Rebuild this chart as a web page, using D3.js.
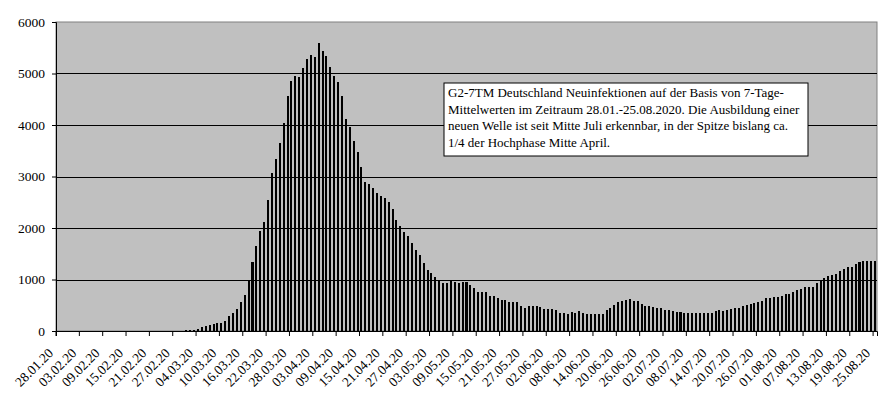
<!DOCTYPE html>
<html>
<head>
<meta charset="utf-8">
<script src="https://cdn.jsdelivr.net/npm/d3@7"></script>
<style>
  body { margin: 0; background: #fff; }
  svg { display: block; }
  text { font-family: "Liberation Serif", "Times New Roman", serif; }
</style>
</head>
<body>
<div id="chart"></div>
<script>
// 7-Tage-Mittelwerte, 28.01.2020 - 25.08.2020 (one value per day)
const startDate = new Date(2020, 0, 28)
const dayCount = 211

const earlyValues = new Array(33).fill(0) // 28.01. - 29.02.
const marchApril = [
  20, 20, 25, 45, 70, 90, 110, 130, 150, 160, 200, 285, 355, 435, 570, 705,
  990, 1345, 1655, 1950, 2120, 2550, 3075, 3345, 3655, 4040, 4570, 4860, 4958, 4932, 5107,
  5288, 5353, 5327, 5599, 5443, 5346, 5133, 4958, 4841, 4570, 4123, 3955, 3696, 3476, 3191,
  2900, 2848, 2783, 2673, 2628, 2589, 2511, 2375, 2149, 2045, 1929, 1851, 1715, 1579, 1482,
  1327, 1191, 1126, 1042, 984, 932, 939, 977, 951, 926, 958, 942, 900, 841
]
const mayJune = [
  751, 751, 751, 686, 686, 647, 595, 595, 570, 557, 557, 492, 440, 476, 492, 476,
  472, 434, 434, 434, 414, 356, 356, 337, 375, 356, 395, 356, 337, 337, 337, 337,
  337, 408, 453, 511, 570, 589, 608, 628, 589, 589, 531, 492, 492, 472, 453, 453,
  414, 414, 395, 375, 375
]
const julyAugust = [
  356, 356, 356, 356, 356, 356, 356, 356, 380, 405, 395, 414, 434, 453, 453, 492,
  511, 531, 550, 570, 589, 647, 647, 667, 667, 686, 725, 725, 764, 803, 822, 861,
  861, 861, 939, 997, 1036, 1074, 1094, 1113, 1172, 1204, 1243, 1243, 1307, 1340, 1366,
  1366, 1366, 1366
]
const values = earlyValues.concat(marchApril, mayJune, julyAugust)

const yTicks = [0, 1000, 2000, 3000, 4000, 5000, 6000]
const labelEvery = 6

const noteLines = [
  'G2-7TM Deutschland Neuinfektionen auf der Basis von 7-Tage-',
  'Mittelwerten im Zeitraum 28.01.-25.08.2020. Die Ausbildung einer',
  'neuen Welle ist seit Mitte Juli erkennbar, in der Spitze bislang ca.',
  '1/4 der Hochphase Mitte April.'
]

const fmt = d3.timeFormat('%d.%m.%y')
const days = d3.range(dayCount).map(i => d3.timeDay.offset(startDate, i))
const data = days.map((d, i) => ({ date: d, value: values[i] }))

const width = 880
const height = 395
const margin = { top: 22, right: 3, bottom: 64, left: 56 }
const plotW = width - margin.left - margin.right
const plotH = height - margin.top - margin.bottom

const svg = d3.select('#chart')
  .append('svg')
  .attr('width', width)
  .attr('height', height)

const g = svg.append('g')
  .attr('transform', `translate(${margin.left}, ${margin.top})`)

const x = d3.scaleBand()
  .domain(days)
  .range([0, plotW])
  .paddingInner(0.48)
  .paddingOuter(0.24)

const y = d3.scaleLinear()
  .domain([0, 6000])
  .range([plotH, 0])

// plot area
g.append('rect')
  .attr('width', plotW)
  .attr('height', plotH)
  .attr('fill', '#c0c0c0')
  .attr('stroke', '#808080')
  .attr('stroke-width', 1)

// gridlines
g.selectAll('.grid')
  .data(yTicks.filter(t => t > 0 && t < 6000))
  .enter()
  .append('line')
  .attr('x1', 0)
  .attr('x2', plotW)
  .attr('y1', d => Math.round(y(d)) + 0.5)
  .attr('y2', d => Math.round(y(d)) + 0.5)
  .attr('stroke', '#000')

// bars
g.selectAll('.bar')
  .data(data)
  .enter()
  .append('rect')
  .attr('x', d => x(d.date))
  .attr('y', d => y(d.value))
  .attr('width', x.bandwidth())
  .attr('height', d => plotH - y(d.value))
  .attr('fill', '#000')
  .attr('shape-rendering', 'crispEdges')

// y axis
const yAxis = g.append('g')
  .call(d3.axisLeft(y).tickValues(yTicks).tickSize(4).tickPadding(7).tickFormat(d3.format('d')))
yAxis.select('.domain').attr('stroke', '#000')
yAxis.selectAll('text')
  .attr('font-size', 13.5)
  .attr('fill', '#000')

// x axis: tick marks on category boundaries, rotated labels
const step = x.step()
const labelDays = days.filter((d, i) => i % labelEvery === 0)
const xAxis = g.append('g')
  .attr('transform', `translate(0, ${plotH})`)
  .call(d3.axisBottom(x).tickValues(labelDays).tickSize(5).tickFormat(fmt))
xAxis.select('.domain').attr('stroke', '#000')
xAxis.selectAll('.tick line')
  .attr('x1', -step / 2)
  .attr('x2', -step / 2)
xAxis.selectAll('text')
  .attr('font-size', 13.5)
  .attr('fill', '#000')
  .attr('text-anchor', 'end')
  .attr('dy', null)
  .attr('y', 0)
  .attr('transform', 'translate(-4, 23) rotate(-45)')

// text box
const box = svg.append('g')
  .attr('transform', 'translate(444, 83)')
box.append('rect')
  .attr('width', 364)
  .attr('height', 73)
  .attr('fill', '#fff')
  .attr('stroke', '#000')
box.selectAll('text')
  .data(noteLines)
  .enter()
  .append('text')
  .attr('x', 4)
  .attr('y', (d, i) => 14 + i * 16.6)
  .attr('font-size', 13)
  .attr('fill', '#000')
  .text(d => d)
</script>
</body>
</html>
